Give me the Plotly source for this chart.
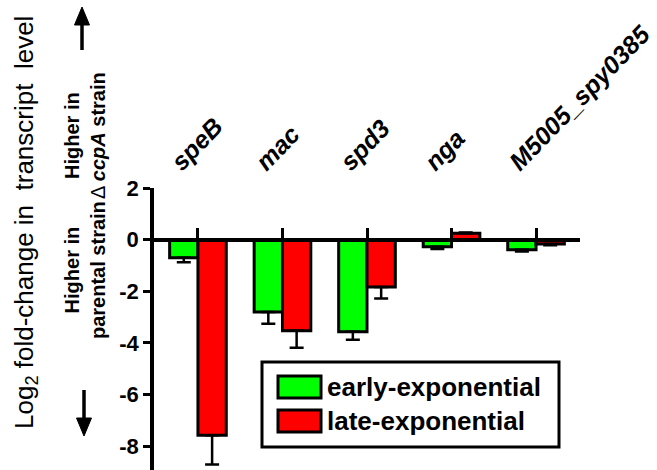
import plotly.graph_objects as go

# ---------------- data ----------------
genes = ["speB", "mac", "spd3", "nga", "M5005_spy0385"]
series_names = ["early-exponential", "late-exponential"]
early_vals = [-0.70, -2.81, -3.57, -0.28, -0.39]
early_err = [0.18, 0.45, 0.31, 0.08, 0.07]
late_vals = [-7.58, -3.53, -1.84, 0.25, -0.17]
late_err = [1.14, 0.66, 0.44, 0.03, 0.05]
y_tick_vals = [2, 0, -2, -4, -6, -8]

# ---------------- style / layout ----------------
W, H = 657, 470
ML, MR, MT, MB = 154, 77, 188, 0
YMIN, YMAX = -8.93, 2.0
GREEN, RED = "#00FF00", "#FF0000"
FONT = "Liberation Sans, Arial, sans-serif"
PW, PH = W - ML - MR, H - MT - MB


def px_x(x):
    return (x - ML) / PW


def px_y(y):
    return (H - MB - y) / PH


def err_parts(vals, errs):
    plus = [e if v > 0 else 0 for v, e in zip(vals, errs)]
    minus = [e if v < 0 else 0 for v, e in zip(vals, errs)]
    return plus, minus


fig = go.Figure()
for name, vals, errs, col in [
    (series_names[0], early_vals, early_err, GREEN),
    (series_names[1], late_vals, late_err, RED),
]:
    plus, minus = err_parts(vals, errs)
    fig.add_trace(go.Bar(
        x=genes, y=vals, name=name,
        marker=dict(color=col, line=dict(color="black", width=3)),
        error_y=dict(type="data", symmetric=False, array=plus, arrayminus=minus,
                     color="black", thickness=2.5, width=7),
        showlegend=False, hoverinfo="skip",
    ))

zero_pos = (0 - YMIN) / (YMAX - YMIN)

fig.update_layout(
    width=W, height=H,
    margin=dict(l=ML, r=MR, t=MT, b=MB, pad=0, autoexpand=False),
    paper_bgcolor="white", plot_bgcolor="white",
    barmode="group", bargap=0.33, bargroupgap=0,
    font=dict(family=FONT, color="black"),
    xaxis=dict(
        type="category", range=[-0.52, len(genes) - 0.48],
        side="top", anchor="free", position=zero_pos, automargin=False,
        showline=True, linecolor="black", linewidth=3.5,
        ticks="outside", ticklen=10, tickwidth=3, tickcolor="black",
        tickvals=genes, ticktext=[f"<b><i>{g}</i></b>" for g in genes],
        tickangle=-46, tickfont=dict(size=25, family=FONT, color="black"),
        ticklabelstandoff=42, ticklabelshift=-25,
        showgrid=False, zeroline=False,
    ),
    yaxis=dict(
        range=[YMIN, YMAX], automargin=False,
        showline=True, linecolor="black", linewidth=3.5,
        ticks="outside", ticklen=7, tickwidth=3, tickcolor="black",
        tickvals=y_tick_vals, ticktext=[f"<b>{v}</b>" for v in y_tick_vals],
        tickfont=dict(size=22, family=FONT, color="black"),
        showgrid=False, zeroline=False,
    ),
)

ann = []
# y-axis title
ann.append(dict(xref="paper", yref="paper", x=px_x(25), y=px_y(223),
                text="Log<sub>2</sub> fold-change in  transcript  level",
                textangle=-90, showarrow=False, xanchor="center", yanchor="middle",
                font=dict(size=26, family=FONT, color="black")))
# upper note
ann.append(dict(xref="paper", yref="paper", x=px_x(85), y=px_y(136),
                text="<b>Higher in</b><br>Δ <b><i>ccpA</i> strain</b>",
                textangle=-90, showarrow=False, xanchor="center", yanchor="middle",
                font=dict(size=20, family=FONT, color="black")))
# lower note
ann.append(dict(xref="paper", yref="paper", x=px_x(85), y=px_y(270),
                text="<b>Higher in<br>parental strain</b>",
                textangle=-90, showarrow=False, xanchor="center", yanchor="middle",
                font=dict(size=20, family=FONT, color="black")))

shapes = []


def arrow(xc, y_tail, y_tip):
    d = 1 if y_tip > y_tail else -1  # +1: pointing down
    head_len, half_w = 18, 7.5
    y_base = y_tip - d * head_len
    shapes.append(dict(type="line", xref="paper", yref="paper",
                       x0=px_x(xc), x1=px_x(xc), y0=px_y(y_tail), y1=px_y(y_base + d),
                       line=dict(color="black", width=3.5)))
    path = (f"M {px_x(xc - half_w)} {px_y(y_base)} L {px_x(xc + half_w)} {px_y(y_base)} "
            f"L {px_x(xc)} {px_y(y_tip)} Z")
    shapes.append(dict(type="path", xref="paper", yref="paper", path=path,
                       fillcolor="black", line=dict(color="black", width=1)))


arrow(82, 50, 7)
arrow(84, 390, 436)

# custom legend
shapes.append(dict(type="rect", xref="paper", yref="paper",
                   x0=px_x(262), x1=px_x(559), y0=px_y(447), y1=px_y(362),
                   line=dict(color="black", width=3), fillcolor="white", layer="above"))
for i, (name, col) in enumerate(zip(series_names, [GREEN, RED])):
    yc = 387 + i * 34
    shapes.append(dict(type="rect", xref="paper", yref="paper",
                       x0=px_x(278), x1=px_x(321), y0=px_y(yc + 11), y1=px_y(yc - 11),
                       line=dict(color="black", width=3), fillcolor=col, layer="above"))
    ann.append(dict(xref="paper", yref="paper", x=px_x(325), y=px_y(yc),
                    text=f"<b>{name}</b>", showarrow=False, xanchor="left",
                    yanchor="middle", font=dict(size=26, family=FONT, color="black")))

fig.update_layout(annotations=ann, shapes=shapes)
fig.write_html("out.html", config={"displayModeBar": False},
               post_script="document.body.style.margin='0';document.body.style.padding='0';")
